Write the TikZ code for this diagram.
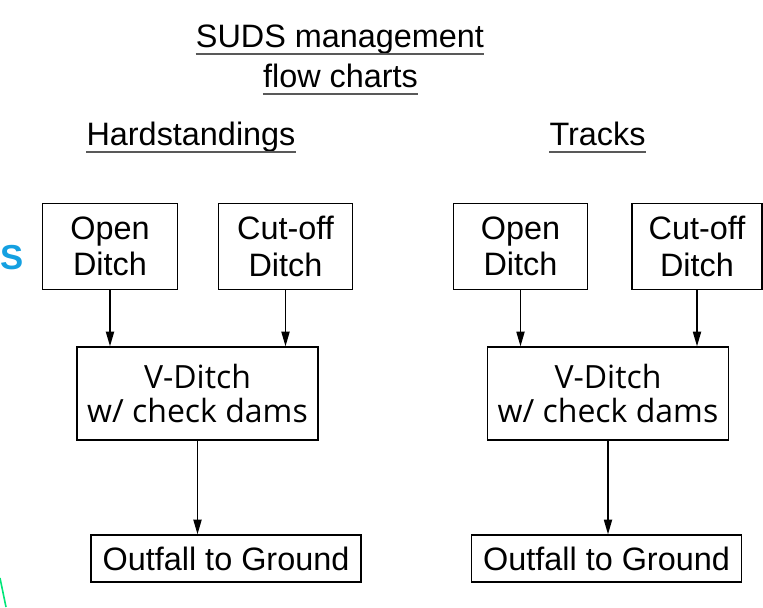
\documentclass[tikz,border=0pt]{standalone}
\usepackage{fontspec}
\setmainfont{Liberation Sans}
\newfontfamily\vfont{Open Sans}
\usetikzlibrary{arrows.meta}
\definecolor{edgecyan}{RGB}{20,160,225}
\definecolor{edgegreen}{RGB}{0,230,120}

\begin{document}
\begin{tikzpicture}[x=0.75pt, y=-0.75pt,
	box/.style = {draw, line width=0.9pt, align=center, inner sep=0pt, font=\fontsize{24.3}{27.5}\selectfont},
	small/.style = {box, minimum width=101pt, minimum height=65pt},
	vbox/.style = {box, minimum width=180.75pt, minimum height=69.75pt, font=\vfont\fontsize{24}{25}\selectfont},
	outbox/.style = {box, minimum width=202.5pt, minimum height=35.25pt},
	head/.style = {anchor=base, inner sep=0pt, font=\fontsize{24.3}{28}\selectfont},
	uline/.style = {line width=1.3pt, black!65},
	flow/.style = {line width=1.3pt, -{Triangle[length=11pt, width=6pt]}}]
	\useasboundingbox (0,0) rectangle (763,607);
	% stray bits at the left edge
	\node[text=edgecyan, anchor=west, inner sep=0pt, font=\bfseries\fontsize{26}{28}\selectfont] (edgeS) at (0,258) {S};
	\draw[line width=1.2pt, edgegreen] (0,578) -- (6,607);
	% titles
	\node[head] (title1) at (340,47) {SUDS management};
	\node[head] (title2) at (340.5,87) {flow charts};
	\node[head] (hard) at (191,145) {Hardstandings};
	\node[head] (tracks) at (597.5,145) {Tracks};
	\foreach \t in {title1, title2, hard, tracks}
		\draw[uline] ([yshift=-5.5pt]\t.base west) -- ([yshift=-5.5pt]\t.base east);
	% hardstandings chart
	\node[small] (openL) at (110,246.5) {Open\\Ditch};
	\node[small] (cutL) at (285.5,246.5) {Cut-off\\Ditch};
	\node[vbox] (vL) at (197.5,393.5) {V-Ditch\\w/ check dams};
	\node[outbox] (outL) at (226,558.5) {Outfall to Ground};
	\draw[flow] (openL) -- (openL |- vL.north);
	\draw[flow] (cutL) -- (cutL |- vL.north);
	\draw[flow] (vL) -- (vL |- outL.north);
	% tracks chart
	\node[small] (openR) at (520.5,246.5) {Open\\Ditch};
	\node[small, minimum width=97.5pt] (cutR) at (697,246.5) {Cut-off\\Ditch};
	\node[vbox] (vR) at (608,393.5) {V-Ditch\\w/ check dams};
	\node[outbox] (outR) at (606.5,558.5) {Outfall to Ground};
	\draw[flow] (openR) -- (openR |- vR.north);
	\draw[flow] (cutR) -- (cutR |- vR.north);
	\draw[flow] (vR) -- (vR |- outR.north);
\end{tikzpicture}
\end{document}
